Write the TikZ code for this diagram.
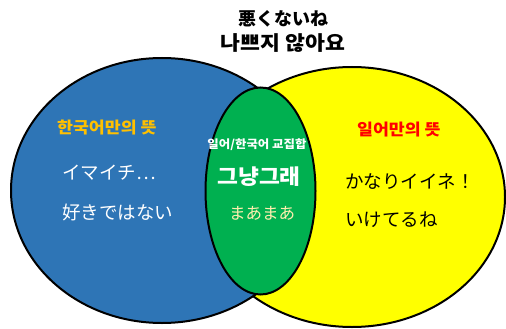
\documentclass[tikz,border=0pt]{standalone}
\usepackage{fontspec}
\newfontfamily\jp{Noto Sans CJK JP}
\newfontfamily\kr{Noto Sans CJK KR}
\newfontfamily\krw[FakeStretch=1.08]{Noto Sans CJK KR}
\definecolor{vblue}{HTML}{2E75B6}
\definecolor{vyellow}{HTML}{FFFF00}
\definecolor{vgreen}{HTML}{00B050}
\definecolor{vorange}{HTML}{FFC000}
\definecolor{vcream}{HTML}{FFEFAF}
\definecolor{vred}{HTML}{FF0000}
\begin{document}
\begin{tikzpicture}[x=1pt,y=-1pt,
  setline/.style={draw=black,line width=2pt},
  lbl/.style={inner sep=0pt,anchor=west},
  jtxt/.style={lbl,font=\jp\fontsize{18.5}{18.5}\selectfont},
  ktxt/.style={lbl,font=\krw\bfseries\fontsize{16}{16}\selectfont}]
\useasboundingbox (0,0) rectangle (506,329);
\fill[white] (0,0) rectangle (506,329);
% circles
\draw[setline,fill=vyellow] (352,197) ellipse [x radius=153pt, y radius=130pt];
\draw[setline,fill=vblue] (162,190.5) ellipse [x radius=151pt, y radius=132.5pt];
\draw[setline,fill=vgreen] (260.5,191) ellipse [x radius=55pt, y radius=103.5pt];
% title
\node[inner sep=0pt,font=\jp\bfseries\fontsize{18}{18}\selectfont] (t1) at (283,19) {悪くないね};
\node[inner sep=0pt,font=\krw\bfseries\fontsize{20}{20}\selectfont] (t2) at (283,43) {나쁘지 않아요};
% left
\node[ktxt,text=vorange] (kl) at (57,128) {한국어만의 뜻};
\node[jtxt,text=white] (l1) at (62,173) {イマイチ…};
\node[jtxt,text=white] (l2) at (62,212) {好きではない};
% middle
\node[inner sep=0pt,text=white,font=\krw\bfseries\fontsize{11.5}{12}\selectfont] (mh) at (257,145) {일어/한국어 교집합};
\node[inner sep=0pt,text=white,font=\krw\bfseries\fontsize{21}{21}\selectfont] (m1) at (259,177) {그냥그래};
\node[inner sep=0pt,text=vcream,font=\jp\fontsize{16.5}{17}\selectfont] (m2) at (262,213) {まあまあ};
% right
\node[ktxt,text=vred] (kr) at (357,130) {일어만의 뜻};
\node[jtxt,text=black] (r1) at (345,182) {かなりイイネ！};
\node[jtxt,text=black] (r2) at (345,220) {いけてるね};
\end{tikzpicture}
\end{document}
